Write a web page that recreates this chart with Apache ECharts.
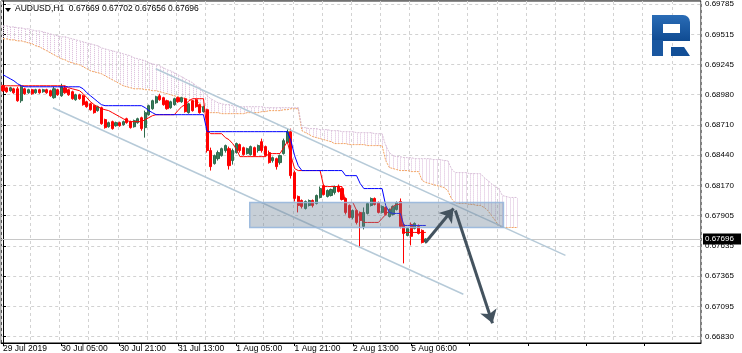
<!DOCTYPE html>
<html><head><meta charset="utf-8">
<script src="https://cdn.jsdelivr.net/npm/echarts@6/dist/echarts.min.js"></script>
<style>html,body{margin:0;padding:0;background:#fff}#c{width:742px;height:353px}</style>
</head><body><div id="c"></div>
<script>
// ---- data ----
const symbolName = 'AUDUSD,H1';
const lastBar = [0.67669, 0.67702, 0.67656, 0.67696]; // O H L C
const timeLabels = ['29 Jul 2019','30 Jul 05:00','30 Jul 21:00','31 Jul 13:00','1 Aug 05:00','1 Aug 21:00','2 Aug 13:00','5 Aug 06:00'];
const labelEvery = 16;
const totalSlots = 192;
const yTicks = [0.66830,0.67095,0.67365,0.67635,0.67905,0.68170,0.68440,0.68710,0.68980,0.69245,0.69515,0.69785];
const yRange = [0.66771, 0.69812];
const bidPrice = 0.67696;
// [open, close, low, high]
const candles = [
[0.69058,0.69014,0.69005,0.69067],[0.69040,0.69005,0.68996,0.69049],[0.69014,0.69040,0.69005,0.69049],[0.69031,0.68996,0.68987,0.69040],
[0.69031,0.68925,0.68916,0.69049],[0.68925,0.69049,0.68907,0.69067],[0.69031,0.68987,0.68978,0.69040],[0.68996,0.69023,0.68987,0.69031],
[0.69023,0.68987,0.68978,0.69031],[0.68996,0.69023,0.68987,0.69031],[0.69023,0.68996,0.68987,0.69031],[0.69005,0.69023,0.68996,0.69031],
[0.69023,0.68996,0.68987,0.69031],[0.69014,0.68969,0.68960,0.69023],[0.68952,0.69031,0.68943,0.69049],[0.69023,0.68978,0.68969,0.69031],
[0.68969,0.69049,0.68960,0.69076],[0.69040,0.68996,0.68987,0.69058],[0.69023,0.68978,0.68969,0.69031],[0.69005,0.68943,0.68934,0.69014],
[0.68934,0.68978,0.68925,0.68987],[0.68978,0.68943,0.68934,0.68987],[0.68969,0.68890,0.68881,0.68978],[0.68916,0.68872,0.68863,0.68925],
[0.68898,0.68845,0.68837,0.68907],[0.68881,0.68819,0.68810,0.68890],[0.68837,0.68872,0.68828,0.68881],[0.68863,0.68721,0.68712,0.68872],
[0.68757,0.68686,0.68677,0.68765],[0.68694,0.68730,0.68686,0.68739],[0.68739,0.68677,0.68668,0.68748],[0.68703,0.68730,0.68694,0.68739],
[0.68730,0.68703,0.68694,0.68739],[0.68712,0.68739,0.68703,0.68748],[0.68765,0.68730,0.68721,0.68774],[0.68739,0.68686,0.68677,0.68748],
[0.68694,0.68748,0.68686,0.68757],[0.68730,0.68765,0.68721,0.68774],[0.68774,0.68677,0.68659,0.68783],[0.68686,0.68819,0.68597,0.68837],
[0.68801,0.68881,0.68792,0.68890],[0.68854,0.68925,0.68845,0.68934],[0.68907,0.68960,0.68898,0.68969],[0.68969,0.68934,0.68925,0.68987],
[0.68952,0.68890,0.68881,0.68960],[0.68925,0.68854,0.68845,0.68934],[0.68863,0.68916,0.68854,0.68925],[0.68890,0.68943,0.68881,0.68952],
[0.68952,0.68916,0.68907,0.68960],[0.68916,0.68952,0.68907,0.68960],[0.68943,0.68828,0.68819,0.68952],[0.68819,0.68898,0.68810,0.68907],
[0.68925,0.68837,0.68828,0.68934],[0.68934,0.68872,0.68863,0.68943],[0.68890,0.68819,0.68810,0.68898],[0.68828,0.68872,0.68819,0.68881],
[0.68845,0.68482,0.68464,0.68854],[0.68482,0.68339,0.68304,0.68508],[0.68366,0.68437,0.68357,0.68446],[0.68410,0.68464,0.68393,0.68482],
[0.68437,0.68499,0.68428,0.68508],[0.68482,0.68526,0.68464,0.68535],[0.68499,0.68348,0.68313,0.68517],[0.68393,0.68482,0.68357,0.68499],
[0.68464,0.68544,0.68455,0.68553],[0.68535,0.68482,0.68464,0.68544],[0.68508,0.68446,0.68437,0.68517],[0.68455,0.68499,0.68446,0.68508],
[0.68446,0.68517,0.68437,0.68526],[0.68508,0.68437,0.68428,0.68517],[0.68482,0.68526,0.68464,0.68535],[0.68561,0.68482,0.68464,0.68588],
[0.68517,0.68437,0.68428,0.68526],[0.68464,0.68375,0.68366,0.68482],[0.68393,0.68419,0.68375,0.68428],[0.68410,0.68339,0.68313,0.68419],
[0.68375,0.68437,0.68357,0.68446],[0.68455,0.68570,0.68446,0.68588],[0.68553,0.68650,0.68544,0.68677],[0.68650,0.68259,0.68233,0.68677],
[0.68286,0.68056,0.68029,0.68304],[0.68074,0.67994,0.67932,0.68082],[0.68038,0.67985,0.67967,0.68047],[0.67967,0.68029,0.67958,0.68038],
[0.67994,0.68038,0.67985,0.68047],[0.68038,0.67994,0.67976,0.68047],[0.68011,0.68082,0.68003,0.68091],[0.68065,0.68144,0.68056,0.68162],
[0.68171,0.68091,0.68082,0.68180],[0.68074,0.68127,0.68065,0.68136],[0.68082,0.68136,0.68074,0.68144],[0.68109,0.68162,0.68091,0.68171],
[0.68162,0.68118,0.68109,0.68180],[0.68144,0.68047,0.68038,0.68153],[0.68056,0.67932,0.67914,0.68065],[0.67994,0.67887,0.67879,0.68003],
[0.67887,0.67949,0.67870,0.67958],[0.67949,0.67843,0.67825,0.67958],[0.67932,0.67861,0.67621,0.67940],[0.67807,0.67932,0.67781,0.67976],
[0.67923,0.68011,0.67914,0.68020],[0.67994,0.68056,0.67985,0.68065],[0.68056,0.68003,0.67994,0.68065],[0.68020,0.67932,0.67923,0.68029],
[0.67932,0.67985,0.67923,0.67994],[0.67976,0.67914,0.67905,0.67985],[0.67896,0.67958,0.67887,0.67967],[0.67914,0.67985,0.67905,0.67994],
[0.67958,0.68020,0.67949,0.68029],[0.68029,0.67807,0.67790,0.68056],[0.67825,0.67745,0.67479,0.67834],[0.67727,0.67790,0.67719,0.67798],
[0.67825,0.67719,0.67639,0.67843],[0.67790,0.67834,0.67781,0.67843],[0.67807,0.67745,0.67736,0.67825],[0.67772,0.67665,0.67656,0.67781],
[0.67669,0.67696,0.67656,0.67702]
];
const tenkan = [
0.69058,0.69058,0.69058,0.69058,0.69058,0.69058,0.69058,0.69058,0.69058,0.69058,0.69058,0.69058,0.69058,0.69058,0.69058,0.69058,0.69058,0.69058,
0.69040,0.69031,0.69023,0.69014,
0.68987,0.68952,0.68916,0.68890,0.68872,0.68854,
0.68845,0.68837,0.68819,
0.68801,0.68783,0.68765,0.68748,
0.68739,0.68739,0.68739,0.68739,
0.68757,0.68774,0.68792,
0.68801,0.68801,0.68801,0.68801,0.68801,0.68801,
0.68837,0.68872,0.68890,0.68925,
0.68943,0.68943,0.68943,0.68943,
0.68659,
0.68632,0.68632,0.68632,0.68632,
0.68597,0.68579,0.68544,0.68499,
0.68428,0.68428,0.68428,0.68428,0.68428,0.68428,0.68428,0.68428,
0.68455,0.68455,0.68455,0.68455,
0.68508,0.68561,
0.68437,0.68322,
0.68304,0.68304,0.68304,0.68304,0.68304,0.68304,0.68304,
0.68162,0.68162,0.68162,0.68162,0.68162,0.68162,
0.68020,0.68020,0.68020,
0.67949,0.67878,
0.67843,0.67843,0.67843,0.67843,0.67843,
0.67878,0.67914,0.67949,0.67985,0.68003,0.68003,
0.67754,0.67754,0.67754,0.67754,0.67754,0.67754,0.67754
];
const kijun = [
0.69156,0.69138,0.69120,0.69102,0.69076,0.69058,
0.69049,0.69049,0.69049,0.69049,0.69049,0.69049,0.69049,0.69049,0.69049,0.69049,0.69049,0.69049,0.69049,0.69049,0.69049,0.69049,
0.69031,0.68996,0.68969,0.68943,0.68916,0.68890,
0.68881,0.68881,0.68881,0.68881,0.68881,0.68881,0.68881,0.68881,0.68881,0.68881,0.68881,
0.68863,0.68837,0.68819,
0.68801,0.68801,0.68801,0.68801,0.68801,0.68801,0.68801,0.68801,0.68801,0.68801,0.68801,0.68801,0.68801,0.68801,
0.68650,0.68650,0.68650,0.68650,0.68650,0.68650,0.68650,0.68650,0.68650,0.68650,0.68650,0.68650,0.68650,0.68650,0.68650,0.68650,0.68650,0.68650,0.68650,0.68650,0.68650,0.68650,0.68650,
0.68570,0.68437,0.68348,
0.68304,0.68304,0.68304,0.68304,0.68304,0.68304,0.68304,0.68304,0.68304,0.68304,0.68304,0.68304,
0.68259,0.68259,0.68259,0.68259,
0.68189,
0.68144,0.68144,0.68144,0.68144,0.68144,0.68144,
0.67994,0.67932,
0.67923,0.67923,0.67923,
0.67816,0.67816,0.67816,0.67816,0.67816,0.67816,0.67816
];
const spanA = [
0.69475,0.69475,0.69466,0.69466,0.69457,0.69457,0.69448,0.69439,0.69431,
0.69413,0.69404,0.69386,0.69369,0.69351,0.69333,0.69315,0.69298,0.69289,
0.69271,0.69262,0.69253,0.69244,0.69227,0.69209,0.69191,0.69182,0.69174,
0.69165,0.69147,0.69129,0.69111,0.69094,0.69076,0.69058,0.69049,0.69040,
0.69031,0.69031,0.69031,0.69023,0.69023,0.69014,0.69014,0.69005,0.68996,
0.68987,0.68978,0.68969,0.68960,0.68952,0.68943,0.68934,0.68925,0.68916,0.68907,
0.68837,0.68819,0.68819,0.68819,0.68819,0.68810,0.68810,0.68810,0.68810,
0.68810,0.68810,0.68810,0.68819,0.68819,0.68819,0.68819,0.68828,0.68828,0.68837,0.68837,0.68837,0.68837,0.68845,0.68845,0.68854,0.68854,0.68854,
0.68659,0.68641,0.68624,0.68606,0.68597,0.68588,0.68579,0.68570,0.68561,
0.68544,0.68544,0.68544,0.68544,0.68535,0.68535,0.68535,0.68535,0.68535,0.68526,0.68526,0.68526,0.68526,0.68526,
0.68393,0.68331,
0.68322,0.68313,0.68304,0.68304,0.68304,0.68295,0.68295,0.68295,0.68216,0.68198,0.68189,0.68180,0.68171,0.68162,0.68153,0.68127,
0.68056,0.68020,0.68011,0.68011,0.68011,0.68003,0.68003,0.67994,0.67994,
0.67976,0.67949,0.67905,0.67861,0.67816,
0.67798,0.67798,0.67798,0.67798,0.67798
];
const spanB = [
0.69590,0.69590,0.69581,0.69581,0.69573,0.69573,0.69564,0.69564,0.69555,
0.69546,0.69546,0.69537,0.69528,0.69519,0.69510,0.69502,0.69493,0.69493,
0.69484,0.69475,0.69466,0.69457,0.69448,0.69439,0.69431,0.69422,0.69413,
0.69395,0.69386,0.69377,0.69369,0.69360,0.69351,0.69342,0.69333,0.69324,
0.69306,0.69298,0.69289,0.69280,0.69262,0.69253,0.69244,0.69236,0.69218,
0.69200,0.69191,0.69174,0.69156,0.69138,0.69120,0.69102,0.69085,0.69058,0.69040,
0.68996,0.68969,0.68943,0.68925,0.68907,0.68898,0.68890,0.68890,0.68881,
0.68881,0.68872,0.68872,0.68872,0.68872,0.68872,0.68872,0.68872,0.68863,0.68863,0.68863,0.68863,0.68863,0.68863,0.68863,0.68863,0.68863,0.68863,
0.68686,0.68686,0.68677,0.68677,0.68677,0.68668,0.68668,0.68668,0.68659,
0.68659,0.68659,0.68650,0.68650,0.68650,0.68650,0.68641,0.68641,0.68641,0.68641,0.68641,0.68632,0.68632,0.68632,
0.68526,0.68464,
0.68437,0.68428,0.68428,0.68419,0.68419,0.68419,0.68410,0.68410,0.68410,0.68410,0.68410,0.68402,0.68402,0.68402,0.68393,0.68393,
0.68322,0.68286,0.68286,0.68286,0.68286,0.68277,0.68277,0.68277,0.68277,
0.68242,0.68216,0.68189,0.68162,0.68144,
0.68082,0.68074,0.68065,0.68065,0.68065
];
// annotations: [bar index, price]
const channelUpper = [[41.9, 0.69209], [154.3, 0.67550]];
const channelLower = [[13.7, 0.68863], [126.3, 0.67204]];
const zoneBox = [67.7, 0.68020, 137.3, 0.67798];
const arrowUp = [[115.9, 0.67665], [123.6, 0.67967]];
const arrowDown = [[124.1, 0.67949], [134.3, 0.66947]];

// ---- chart ----
const FONT = 'Liberation Sans';
const categories = Array.from({length: totalSlots}, (_, i) => String(i));
const chart = echarts.init(document.getElementById('c'), null, {renderer: 'canvas'});
const fmt5 = v => v.toFixed(5);
const logoFill = {type: 'linear', x: 0, y: 0, x2: 0, y2: 1, colorStops: [{offset: 0, color: '#2A6CB6'}, {offset: 1, color: '#0F4B92'}]};
const option = {
  animation: false,
  backgroundColor: '#ffffff',
  textStyle: {fontFamily: FONT},
  grid: {left: 1, right: 41, top: 0, bottom: 10, show: true, borderColor: '#000', borderWidth: 1, containLabel: false},
  xAxis: [{
    type: 'category', data: categories, boundaryGap: true,
    axisLine: {show: true, lineStyle: {color: '#000', width: 1}},
    axisTick: {show: true, interval: labelEvery - 1, alignWithLabel: true, length: 3, lineStyle: {color: '#000'}},
    axisLabel: {interval: labelEvery - 1, align: 'left', margin: 1, fontSize: 8.5, color: '#000', fontFamily: FONT,
      formatter: (v, idx) => (idx % labelEvery === 0 && idx / labelEvery < timeLabels.length) ? timeLabels[idx / labelEvery] : ''},
    splitLine: {show: true, interval: labelEvery / 2 - 1, lineStyle: {color: '#D2D2D2', type: [3, 3], width: 1}}
  }, {
    type: 'value', min: -0.5, max: totalSlots - 0.5, show: false
  }],
  yAxis: [{
    type: 'value', position: 'right', min: yRange[0], max: yRange[1],
    axisLine: {show: true, lineStyle: {color: '#000'}},
    axisTick: {show: true, length: 3, customValues: yTicks, lineStyle: {color: '#000'}},
    axisLabel: {customValues: yTicks, formatter: fmt5, fontSize: 8, color: '#000', margin: 4, fontFamily: FONT},
    splitLine: {show: true, lineStyle: {color: '#D2D2D2', type: [3, 3], width: 1}}
  }],
  series: [
    { // kumo hatch
      type: 'custom', name: 'kumo', z: 1, clip: true,
      data: spanA.map((a, i) => [i, a, spanB[i]]),
      renderItem: (params, api) => {
        const p1 = api.coord([api.value(0), api.value(1)]);
        const p2 = api.coord([api.value(0), api.value(2)]);
        const x = Math.round(p1[0]) + 0.5;
        return {type: 'line', shape: {x1: x, y1: p1[1], x2: x, y2: p2[1]},
          style: {stroke: '#D9B8D9', lineWidth: 1, lineDash: [1, 1]}};
      }
    },
    {type: 'line', name: 'Senkou A', data: spanA, symbol: 'none', z: 2,
      lineStyle: {color: '#F4A460', width: 1, type: [2, 1]}},
    {type: 'line', name: 'Senkou B', data: spanB, symbol: 'none', z: 2,
      lineStyle: {color: '#D8BFD8', width: 1, type: [2, 1]}},
    { // bid line + price tag
      type: 'custom', name: 'bid', xAxisIndex: 1, yAxisIndex: 0, z: 2, clip: false,
      data: [[totalSlots - 0.5, bidPrice]],
      renderItem: (params, api) => {
        const cs = params.coordSys;
        const p = api.coord([api.value(0), api.value(1)]);
        const y = Math.round(p[1]) + 0.5;
        return {type: 'group', children: [
          {type: 'line', shape: {x1: cs.x, y1: y, x2: cs.x + cs.width, y2: y}, style: {stroke: '#C8C8C8', lineWidth: 1}},
          {type: 'rect', shape: {x: cs.x + cs.width + 2, y: y - 6, width: 38, height: 11}, style: {fill: '#000'}, z2: 20},
          {type: 'text', x: cs.x + cs.width + 4, y: y - 5, z2: 21,
            style: {text: fmt5(api.value(1)), fill: '#fff', fontSize: 8, fontFamily: FONT}}
        ]};
      }
    },
    {type: 'candlestick', name: symbolName, data: candles, z: 3, barWidth: 2.6,
      itemStyle: {color: '#3A7E5C', color0: '#FF0000', borderColor: '#2E6A4C', borderColor0: '#FF0000', borderWidth: 1}
    },
    {type: 'line', name: 'Tenkan', data: tenkan, symbol: 'none', z: 4, lineStyle: {color: '#FF0000', width: 1}},
    {type: 'line', name: 'Kijun', data: kijun, symbol: 'none', z: 4, lineStyle: {color: '#0000FF', width: 1}},
    {type: 'lines', name: 'channel', coordinateSystem: 'cartesian2d', xAxisIndex: 1, yAxisIndex: 0, z: 6,
      symbol: 'none', lineStyle: {color: '#B6CAD8', width: 1.5, opacity: 1},
      data: [{coords: channelUpper}, {coords: channelLower}]},
    {type: 'custom', name: 'zone', xAxisIndex: 1, yAxisIndex: 0, z: 7,
      data: [zoneBox],
      renderItem: (params, api) => {
        const a = api.coord([api.value(0), api.value(1)]);
        const b = api.coord([api.value(2), api.value(3)]);
        return {type: 'rect', shape: {x: a[0], y: a[1], width: b[0] - a[0], height: b[1] - a[1]},
          style: {fill: 'rgba(108,128,150,0.38)', stroke: 'rgba(150,182,220,0.9)', lineWidth: 1.5}};
      }
    },
    {type: 'lines', name: 'arrows', coordinateSystem: 'cartesian2d', xAxisIndex: 1, yAxisIndex: 0, z: 8,
      symbol: ['none', 'arrow'], symbolSize: 13,
      lineStyle: {color: '#44535F', width: 3, opacity: 1},
      data: [{coords: arrowUp}, {coords: arrowDown}]}
  ],
  graphic: [
    {type: 'polygon', shape: {points: [[5, 8], [11, 8], [8, 12]]}, style: {fill: '#000'}, z: 100},
    {type: 'text', x: 15, y: 4, z: 100,
      style: {text: symbolName + '  ' + lastBar.map(fmt5).join(' '), fontSize: 8.5, fontFamily: FONT, fill: '#000'}},
    {type: 'rect', z: 100, shape: {x: 652, y: 15, width: 38, height: 26, r: [0, 7, 0, 0]}, style: {fill: logoFill}},
    {type: 'rect', z: 101, shape: {x: 663, y: 24, width: 17, height: 9}, style: {fill: '#fff'}},
    {type: 'rect', z: 100, shape: {x: 652, y: 40, width: 11, height: 16}, style: {fill: '#1A57A0'}},
    {type: 'polygon', z: 100, shape: {points: [[671, 47], [684, 47], [690, 56], [671, 56]]}, style: {fill: '#124F97'}}
  ]
};
try { chart.setOption(option); } catch (e) { console.error(e); }
</script>
</body></html>
